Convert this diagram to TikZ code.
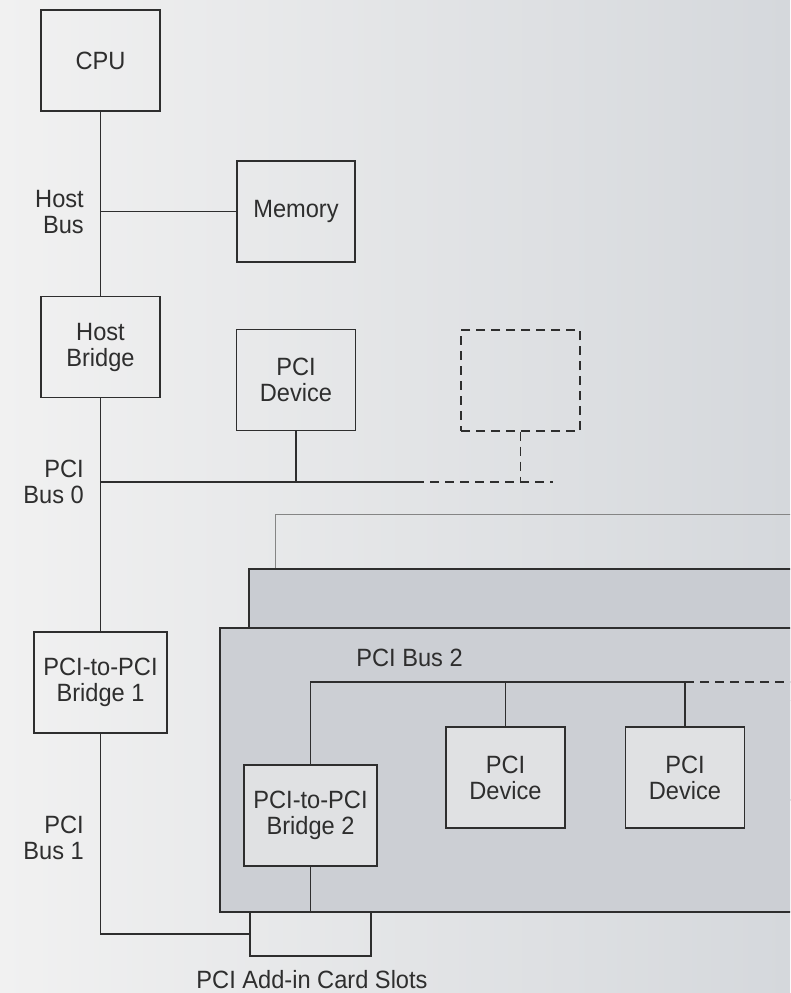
\documentclass[tikz,border=0pt]{standalone}
\usepackage{fontspec}
\setmainfont{Liberation Sans}[FakeStretch=0.945]
\definecolor{linec}{HTML}{2E2E2E}
\definecolor{bgl}{HTML}{F1F1F1}
\definecolor{bgr}{HTML}{D5D8DC}
\definecolor{cardfill}{HTML}{CCCFD4}
\definecolor{midfill}{HTML}{C9CCD2}
\definecolor{innerfill}{HTML}{E0E1E3}
\definecolor{backline}{HTML}{858585}
\begin{document}
\begin{tikzpicture}[x=1pt,y=-1pt,
  txt/.style={font=\fontsize{25}{26}\selectfont, text=linec},
  box/.style={txt, draw=linec, line width=1.4pt, minimum width=119pt, minimum height=101pt, inner sep=0pt, align=center},
  wbox/.style={box, minimum width=133pt},
  ghostbox/.style={draw=linec, line width=1.4pt, dash pattern=on 9pt off 6pt, minimum width=119pt, minimum height=101pt, inner sep=0pt},
  slotbox/.style={draw=linec, line width=1.4pt, minimum width=121pt, minimum height=44pt, inner sep=0pt},
  lab/.style={txt, align=right, inner sep=0pt},
  bus/.style={draw=linec, line width=1.4pt},
  dbus/.style={bus, dash pattern=on 9pt off 6pt},
  card/.style={draw=linec, line width=1.4pt},
  backcard/.style={draw=backline, line width=1pt}
]
\useasboundingbox (0,0) rectangle (790,993);
\clip (0,0) rectangle (790,993);
\shade[left color=bgl, right color=bgr] (0,0) rectangle (790,993);

% add-in cards
\draw[backcard] (275,514) rectangle (800,700);
\draw[card, fill=midfill] (249,569) rectangle (800,800);
\draw[card, fill=cardfill] (220,628) rectangle (800,912);

% boxes
\node[box] (cpu) at (100.5,60.5) {CPU};
\node[box, minimum width=118pt] (mem) at (296,211.5) {Memory};
\node[box] (hb) at (100.5,347) {Host\\Bridge};
\node[box] (dev0) at (296,380) {PCI\\Device};
\node[ghostbox] (ghost) at (520.5,380.5) {};
\node[wbox] (b1) at (100.5,682.5) {PCI-to-PCI\\Bridge 1};
\node[wbox, fill=innerfill] (b2) at (310.5,815.5) {PCI-to-PCI\\Bridge 2};
\node[box, fill=innerfill] (dev1) at (505.5,777.5) {PCI\\Device};
\node[box, fill=innerfill] (dev2) at (685,777.5) {PCI\\Device};
\node[slotbox] (slot) at (310.5,934) {};

% labels
\node[lab, anchor=east] (hostbus) at (84,212) {Host\\Bus};
\node[lab, anchor=east] (bus0) at (84,482) {PCI\\Bus 0};
\node[lab, anchor=east] (bus1) at (84,837.5) {PCI\\Bus 1};
\node[txt, inner sep=0pt] (bus2) at (409.5,658) {PCI Bus 2};
\node[txt, inner sep=0pt] (slotlab) at (312,980) {PCI Add-in Card Slots};

% host bus
\draw[bus] (cpu.south) -- (hb.north);
\coordinate (hj) at (cpu.south |- mem.west);
\draw[bus] (hj) -- (mem.west);

% PCI bus 0
\coordinate (p0) at (100.5,482);
\coordinate (p0s) at (415,482);
\coordinate (p0e) at (553,482);
\draw[bus] (hb.south) -- (b1.north);
\draw[bus] (p0) -- (p0s);
\draw[dbus] (p0s) -- (p0e);
\draw[bus] (dev0.south) -- (dev0.south |- p0);
\draw[dbus] (ghost.south) -- (ghost.south |- p0);

% PCI bus 1
\draw[bus] (b1.south) |- (slot.west);

% PCI bus 2
\coordinate (p2) at (310.5,682);
\coordinate (p2e) at (800,682);
\draw[bus] (b2.north) |- (dev2.north |- p2);
\draw[bus] (dev1.north) -- (dev1.north |- p2);
\draw[bus] (dev2.north) -- (dev2.north |- p2);
\draw[dbus] (dev2.north |- p2) -- (p2e);
\draw[bus] (b2.south) -- (b2.south |- slot.north);
\end{tikzpicture}
\end{document}
